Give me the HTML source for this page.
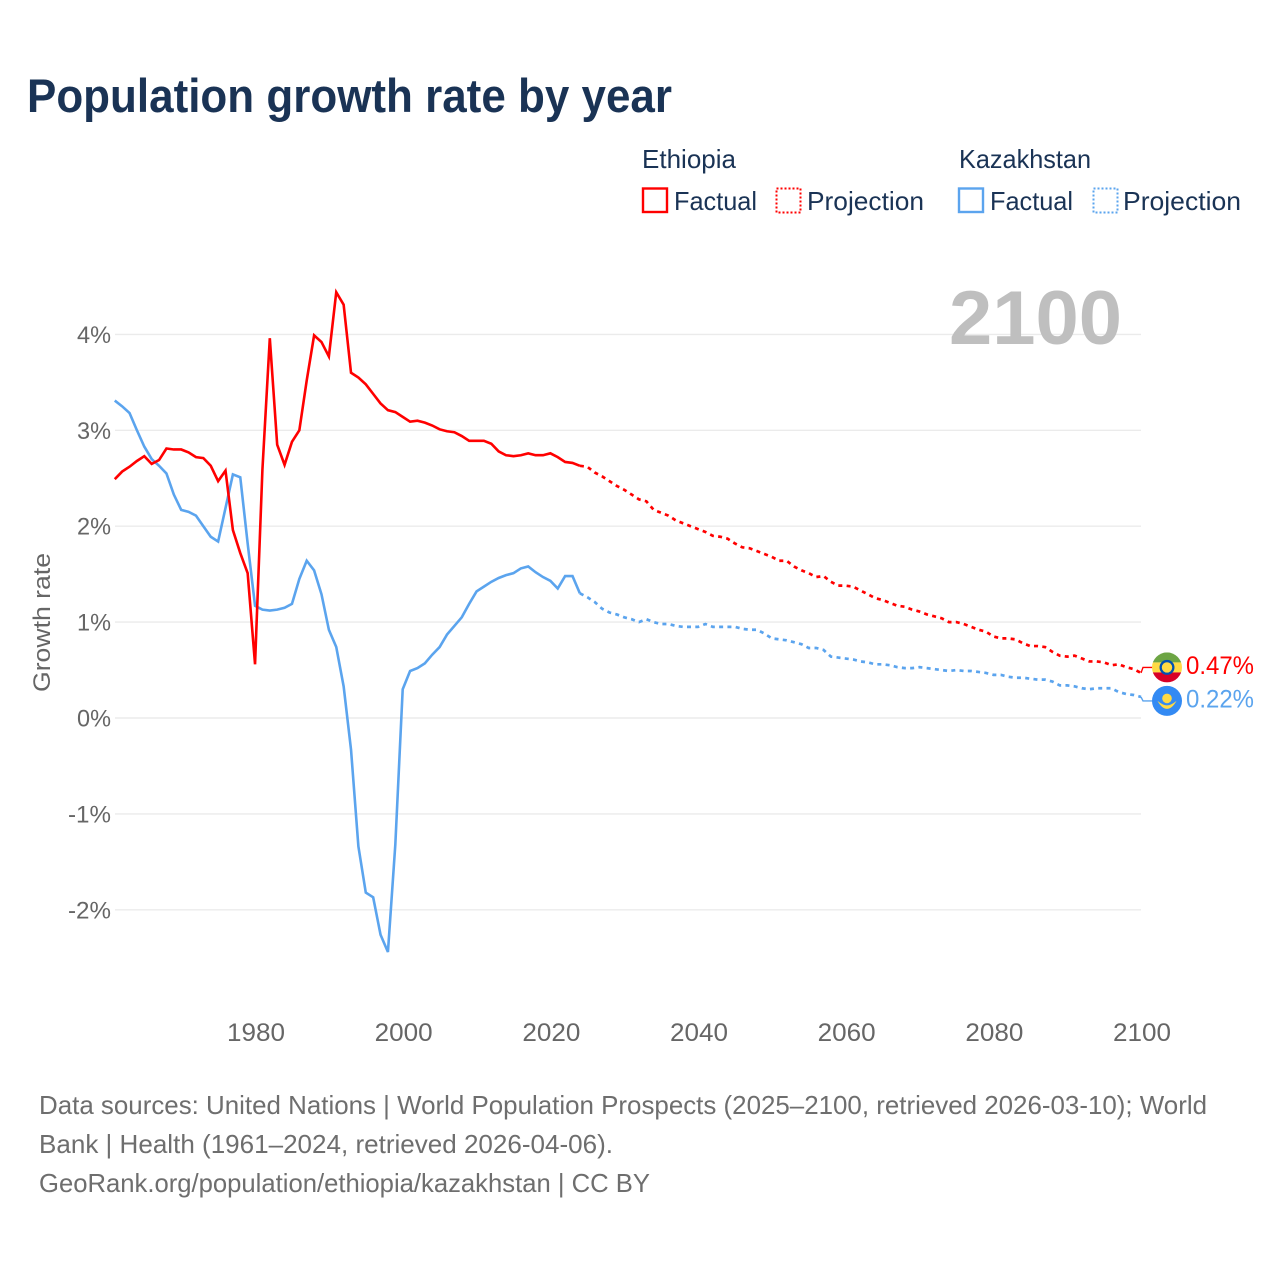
<!DOCTYPE html>
<html lang="en">
<head>
<meta charset="utf-8">
<title>Population growth rate by year</title>
<style>
html,body{margin:0;padding:0;background:#fff;}
svg{display:block;font-family:"Liberation Sans",sans-serif;}
</style>
</head>
<body>
<svg id="chart" xmlns="http://www.w3.org/2000/svg" width="1280" height="1280" viewBox="0 0 1280 1280">
  <rect x="0" y="0" width="1280" height="1280" fill="#ffffff"/>
  <text x="27" y="112" font-size="47" font-weight="700" fill="#1a3355" textLength="645" lengthAdjust="spacingAndGlyphs">Population growth rate by year</text>

  <g font-size="26" fill="#1a3355">
    <text x="642" y="168" textLength="94" lengthAdjust="spacingAndGlyphs">Ethiopia</text>
    <text x="959" y="168" textLength="132" lengthAdjust="spacingAndGlyphs">Kazakhstan</text>
    <rect x="643" y="188.5" width="24" height="23.5" fill="none" stroke="#ff0000" stroke-width="2.4"/>
    <text x="674" y="210" textLength="83" lengthAdjust="spacingAndGlyphs">Factual</text>
    <rect x="776.5" y="188.5" width="24" height="24" fill="none" stroke="#ff0000" stroke-width="2" stroke-dasharray="2 2"/>
    <text x="807" y="210" textLength="117" lengthAdjust="spacingAndGlyphs">Projection</text>
    <rect x="959" y="188.5" width="24" height="23.5" fill="none" stroke="#5ba4ee" stroke-width="2.4"/>
    <text x="990" y="210" textLength="83" lengthAdjust="spacingAndGlyphs">Factual</text>
    <rect x="1093.5" y="188.5" width="24" height="24" fill="none" stroke="#5ba4ee" stroke-width="2" stroke-dasharray="2 2"/>
    <text x="1123" y="210" textLength="118" lengthAdjust="spacingAndGlyphs">Projection</text>
  </g>

  <g id="grid"></g>
  <g id="yticks"></g>
  <g id="xticks"></g>
  <text transform="translate(50 622.5) rotate(-90)" text-anchor="middle" font-size="24" fill="#666666" textLength="139" lengthAdjust="spacingAndGlyphs">Growth rate</text>
  <text x="949" y="344" font-size="76" font-weight="700" fill="#bfbfbf" textLength="173" lengthAdjust="spacingAndGlyphs">2100</text>

  <g id="series"></g>

  <g id="flag-et">
    <clipPath id="clip-et"><circle cx="0" cy="0" r="15"/></clipPath>
    <g clip-path="url(#clip-et)">
      <rect x="-15" y="-15" width="30" height="10" fill="#6da544"/>
      <rect x="-15" y="-5" width="30" height="10" fill="#ffda44"/>
      <rect x="-15" y="5" width="30" height="10" fill="#d80027"/>
      <circle cx="0" cy="0" r="7.5" fill="#0052b4"/>
      <circle cx="0" cy="0" r="5.2" fill="#ffda44"/>
    </g>
  </g>
  <g id="flag-kz">
    <circle cx="0" cy="0" r="15" fill="#338af3"/>
    <circle cx="0" cy="-2.5" r="4.8" fill="#ffda44"/>
    <path d="M-9.5 0 Q-5 8 0 8 Q5 8 9.5 0 Q4 4.5 0 4.5 Q-4 4.5 -9.5 0Z" fill="#ffda44"/>
  </g>

  <g font-size="26" fill="#6e6e6e">
    <text x="39" y="1114" textLength="1168" lengthAdjust="spacingAndGlyphs">Data sources: United Nations | World Population Prospects (2025–2100, retrieved 2026-03-10); World</text>
    <text x="39" y="1153" textLength="574" lengthAdjust="spacingAndGlyphs">Bank | Health (1961–2024, retrieved 2026-04-06).</text>
    <text x="39" y="1192" textLength="611" lengthAdjust="spacingAndGlyphs">GeoRank.org/population/ethiopia/kazakhstan | CC BY</text>
  </g>
</svg>
<script>
const firstYear = 1961;
const lastFactualYear = 2024;
const yTickValues = [4, 3, 2, 1, 0, -1, -2];
const xTickYears = [1980, 2000, 2020, 2040, 2060, 2080, 2100];

const ethiopiaFactual = [
  2.49,2.57,2.62,2.68,2.73,2.65,2.69,2.81,2.80,2.80,
  2.77,2.72,2.71,2.63,2.47,2.58,1.96,1.72,1.51,0.56,
  2.59,3.96,2.85,2.64,2.88,3.00,3.52,3.99,3.92,3.77,
  4.44,4.31,3.60,3.55,3.48,3.38,3.28,3.21,3.19,3.14,
  3.09,3.10,3.08,3.05,3.01,2.99,2.98,2.94,2.89,2.89,
  2.89,2.86,2.78,2.74,2.73,2.74,2.76,2.74,2.74,2.76,
  2.72,2.67,2.66,2.63
];
const ethiopiaProjection = [
  2.62,2.56,2.52,2.47,2.42,2.38,2.33,2.28,2.26,2.17,
  2.14,2.11,2.06,2.03,2.00,1.97,1.94,1.90,1.89,1.87,
  1.82,1.78,1.77,1.74,1.71,1.68,1.64,1.64,1.58,1.54,
  1.51,1.47,1.48,1.42,1.38,1.38,1.37,1.33,1.29,1.25,
  1.23,1.20,1.17,1.16,1.13,1.11,1.08,1.06,1.04,1.00,
  1.00,0.98,0.95,0.92,0.90,0.85,0.83,0.83,0.82,0.78,
  0.75,0.75,0.74,0.69,0.65,0.64,0.65,0.62,0.59,0.59,
  0.58,0.55,0.56,0.53,0.51,0.47
];
const kazakhstanFactual = [
  3.31,3.25,3.18,3.00,2.83,2.70,2.63,2.55,2.33,2.17,
  2.15,2.11,2.00,1.89,1.84,2.19,2.54,2.51,1.82,1.17,
  1.13,1.12,1.13,1.15,1.19,1.45,1.64,1.54,1.29,0.92,
  0.74,0.33,-0.33,-1.34,-1.82,-1.87,-2.26,-2.44,-1.32,0.30,
  0.49,0.52,0.57,0.66,0.74,0.87,0.96,1.05,1.19,1.32,
  1.37,1.42,1.46,1.49,1.51,1.56,1.58,1.52,1.47,1.43,
  1.35,1.48,1.48,1.30
];
const kazakhstanProjection = [
  1.26,1.21,1.14,1.10,1.08,1.05,1.03,1.00,1.03,1.00,
  0.98,0.98,0.96,0.95,0.95,0.95,0.98,0.95,0.95,0.95,
  0.95,0.93,0.92,0.92,0.88,0.83,0.82,0.81,0.79,0.77,
  0.73,0.73,0.71,0.64,0.63,0.62,0.61,0.59,0.58,0.56,
  0.56,0.55,0.53,0.52,0.52,0.53,0.52,0.51,0.50,0.49,
  0.50,0.49,0.49,0.48,0.47,0.45,0.45,0.43,0.42,0.42,
  0.41,0.40,0.40,0.38,0.34,0.34,0.33,0.31,0.30,0.31,
  0.31,0.31,0.27,0.25,0.24,0.22
];

const SVG_NS = 'http://www.w3.org/2000/svg';
const RED = '#ff0000';
const BLUE = '#5ba4ee';
const xScale = function (year) { return 1141 - (2100 - year) * 7.383; };
const yScale = function (v) { return 718 - v * 95.9; };
const make = function (tag) { return document.createElementNS(SVG_NS, tag); };

const grid = document.getElementById('grid');
const yticks = document.getElementById('yticks');
const xticks = document.getElementById('xticks');
const series = document.getElementById('series');

yTickValues.forEach(function (v) {
  const line = make('line');
  
  
  line.setAttribute('x1', 115);
  line.setAttribute('x2', 1141);
  line.setAttribute('y1', yScale(v));
  line.setAttribute('y2', yScale(v));
  line.setAttribute('stroke', '#ebebeb');
  line.setAttribute('stroke-width', 1.4);
  grid.appendChild(line);

  const label = make('text');
  
  
  label.setAttribute('x', 111);
  label.setAttribute('y', yScale(v) + 8.5);
  label.setAttribute('text-anchor', 'end');
  label.setAttribute('font-size', 24);
  label.setAttribute('fill', '#666666');
  label.setAttribute('textLength', v < 0 ? 43 : 34);
  label.setAttribute('lengthAdjust', 'spacingAndGlyphs');
  label.textContent = v + '%';
  yticks.appendChild(label);
});

xTickYears.forEach(function (yr) {
  const label = make('text');
  
  
  label.setAttribute('x', xScale(yr) + 1);
  label.setAttribute('y', 1041);
  label.setAttribute('text-anchor', 'middle');
  label.setAttribute('font-size', 25);
  label.setAttribute('fill', '#666666');
  label.setAttribute('textLength', 58);
  label.setAttribute('lengthAdjust', 'spacingAndGlyphs');
  label.textContent = yr;
  xticks.appendChild(label);
});

const pathFrom = function (values, startYear) {
  return values.map(function (v, i) {
    return (i ? 'L' : 'M') + xScale(startYear + i).toFixed(2) + ' ' + yScale(v).toFixed(2);
  }).join(' ');
};

const drawFactual = function (values, color, name) {
  const p = make('path');
  
  
  p.setAttribute('d', pathFrom(values, firstYear));
  p.setAttribute('fill', 'none');
  p.setAttribute('stroke', color);
  p.setAttribute('stroke-width', 2.6);
  p.setAttribute('stroke-linejoin', 'miter');
  series.appendChild(p);
};

const drawProjection = function (factual, values, color, name) {
  const p = make('path');
  
  
  p.setAttribute('d', pathFrom([factual[factual.length - 1]].concat(values), lastFactualYear));
  p.setAttribute('fill', 'none');
  p.setAttribute('stroke', color);
  p.setAttribute('stroke-width', 2.7);
  p.setAttribute('stroke-dasharray', '4 4.3');
  series.appendChild(p);
};

const drawEnd = function (values, color, flagId, markerY, leaderName, labelName) {
  const last = values[values.length - 1];
  const lx = xScale(2100);
  const ly = yScale(last);
  const leader = make('path');
  
  
  leader.setAttribute('d', 'M' + lx + ' ' + ly + ' L' + (lx + 2) + ' ' + markerY + ' L' + (lx + 12) + ' ' + markerY);
  leader.setAttribute('fill', 'none');
  leader.setAttribute('stroke', color);
  leader.setAttribute('stroke-width', 1.4);
  series.appendChild(leader);

  document.getElementById(flagId).setAttribute('transform', 'translate(1167 ' + markerY + ')');

  const label = make('text');
  
  
  label.setAttribute('x', 1186);
  label.setAttribute('y', markerY + 6.5);
  label.setAttribute('font-size', 25);
  label.setAttribute('fill', color);
  label.setAttribute('textLength', 68);
  label.setAttribute('lengthAdjust', 'spacingAndGlyphs');
  label.textContent = last.toFixed(2) + '%';
  series.appendChild(label);
};

drawFactual(kazakhstanFactual, BLUE, 'kazakhstan-factual-line');
drawFactual(ethiopiaFactual, RED, 'ethiopia-factual-line');
drawProjection(kazakhstanFactual, kazakhstanProjection, BLUE, 'kazakhstan-projection-line');
drawProjection(ethiopiaFactual, ethiopiaProjection, RED, 'ethiopia-projection-line');
drawEnd(ethiopiaProjection, RED, 'flag-et', yScale(ethiopiaProjection[ethiopiaProjection.length - 1]) - 5.5, 'ethiopia-end-leader', 'ethiopia-end-value');
drawEnd(kazakhstanProjection, BLUE, 'flag-kz', yScale(kazakhstanProjection[kazakhstanProjection.length - 1]) + 4, 'kazakhstan-end-leader', 'kazakhstan-end-value');
</script>
</body>
</html>
